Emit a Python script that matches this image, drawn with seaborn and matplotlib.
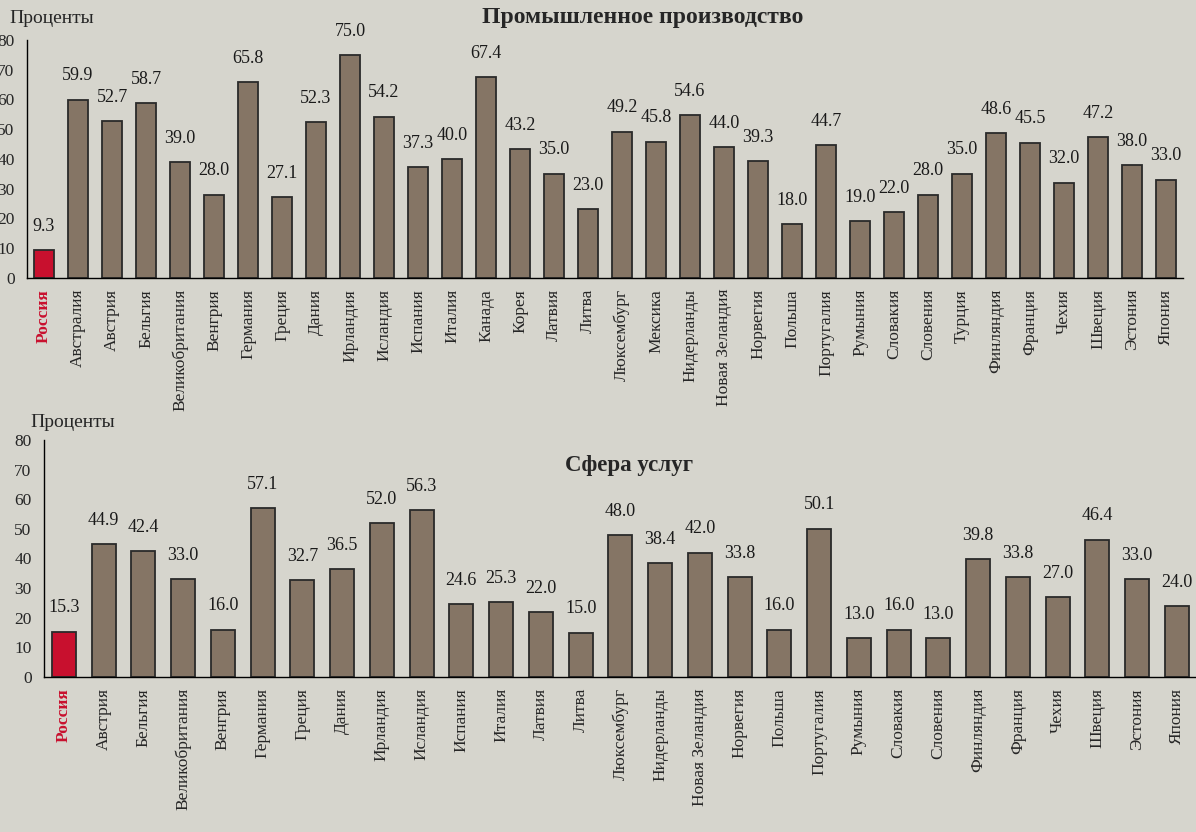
import numpy as np
import pandas as pd
import seaborn as sns
import matplotlib.pyplot as plt

# Промышленное производство
ind_countries = ["Россия", "Австралия", "Австрия", "Бельгия", "Великобритания", "Венгрия",
                 "Германия", "Греция", "Дания", "Ирландия", "Исландия", "Испания", "Италия",
                 "Канада", "Корея", "Латвия", "Литва", "Люксембург", "Мексика", "Нидерланды",
                 "Новая Зеландия", "Норвегия", "Польша", "Португалия", "Румыния", "Словакия",
                 "Словения", "Турция", "Финляндия", "Франция", "Чехия", "Швеция", "Эстония",
                 "Япония"]
ind_values = [9.3, 59.9, 52.7, 58.7, 39.0, 28.0, 65.8, 27.1, 52.3, 75.0, 54.2, 37.3, 40.0,
              67.4, 43.2, 35.0, 23.0, 49.2, 45.8, 54.6, 44.0, 39.3, 18.0, 44.7, 19.0, 22.0,
              28.0, 35.0, 48.6, 45.5, 32.0, 47.2, 38.0, 33.0]

# Сфера услуг
srv_countries = ["Россия", "Австрия", "Бельгия", "Великобритания", "Венгрия", "Германия",
                 "Греция", "Дания", "Ирландия", "Исландия", "Испания", "Италия", "Латвия",
                 "Литва", "Люксембург", "Нидерланды", "Новая Зеландия", "Норвегия", "Польша",
                 "Португалия", "Румыния", "Словакия", "Словения", "Финляндия", "Франция",
                 "Чехия", "Швеция", "Эстония", "Япония"]
srv_values = [15.3, 44.9, 42.4, 33.0, 16.0, 57.1, 32.7, 36.5, 52.0, 56.3, 24.6, 25.3, 22.0,
              15.0, 48.0, 38.4, 42.0, 33.8, 16.0, 50.1, 13.0, 16.0, 13.0, 39.8, 33.8, 27.0,
              46.4, 33.0, 24.0]

yticks = [0, 10, 20, 30, 40, 50, 60, 70, 80]

BG = "#d6d5cd"
BAR = "#857565"
RED = "#c8102e"

sns.set_style("white")
plt.rcParams["font.family"] = ["Liberation Serif", "DejaVu Serif"]
plt.rcParams["axes.facecolor"] = BG
plt.rcParams["figure.facecolor"] = BG


def draw_panel(ax, countries, values):
    df = pd.DataFrame({"country": countries, "value": values})
    pal = {c: (RED if c == "Россия" else BAR) for c in countries}
    sns.barplot(data=df, x="country", y="value", hue="country", palette=pal,
                legend=False, width=0.6, edgecolor="#2a2a2a", linewidth=1.3,
                saturation=1, ax=ax)
    n = len(countries)
    ax.set_xlim(-0.5, n - 0.5)
    ax.set_ylim(0, 80)
    ax.set_yticks(yticks)
    ax.set_xlabel("")
    ax.set_ylabel("")
    for s in ["top", "right"]:
        ax.spines[s].set_visible(False)
    for s in ["left", "bottom"]:
        ax.spines[s].set_color("black")
        ax.spines[s].set_linewidth(1.0)
    ax.set_xticks(range(n))
    ax.set_xticklabels(countries, rotation=90, fontsize=12.5)
    ax.set_xticks(np.arange(n + 1) - 0.5, minor=True)
    ax.tick_params(axis="x", which="major", length=0, pad=8)
    ax.tick_params(axis="x", which="minor", length=6, width=1, color="black", direction="out")
    ax.tick_params(axis="y", length=6, width=1, color="black", direction="out",
                   labelsize=12.5, pad=3)
    lab = ax.get_xticklabels()[0]
    lab.set_color(RED)
    lab.set_fontweight("bold")
    for i, v in enumerate(values):
        ax.text(i, v + 8, f"{v:.1f}", ha="center", va="center", fontsize=13, color="#1a1a1a")


fig = plt.figure(figsize=(11.96, 8.32), dpi=100)
ax1 = fig.add_axes([0.0226, 0.666, 0.9666, 0.286])
ax2 = fig.add_axes([0.0368, 0.1863, 0.9638, 0.2849])

draw_panel(ax1, ind_countries, ind_values)
draw_panel(ax2, srv_countries, srv_values)

fig.text(0.537, 0.979, "Промышленное производство", ha="center", va="center",
         fontsize=17, fontweight="bold")
fig.text(0.008, 0.978, "Проценты", ha="left", va="center", fontsize=14)
fig.text(0.025, 0.4916, "Проценты", ha="left", va="center", fontsize=14)
ax2.text(0.526, 0.441, "Сфера услуг", transform=fig.transFigure, ha="center",
         va="center", fontsize=16.5, fontweight="bold")

fig.savefig("out.png", dpi=100, facecolor=BG)
